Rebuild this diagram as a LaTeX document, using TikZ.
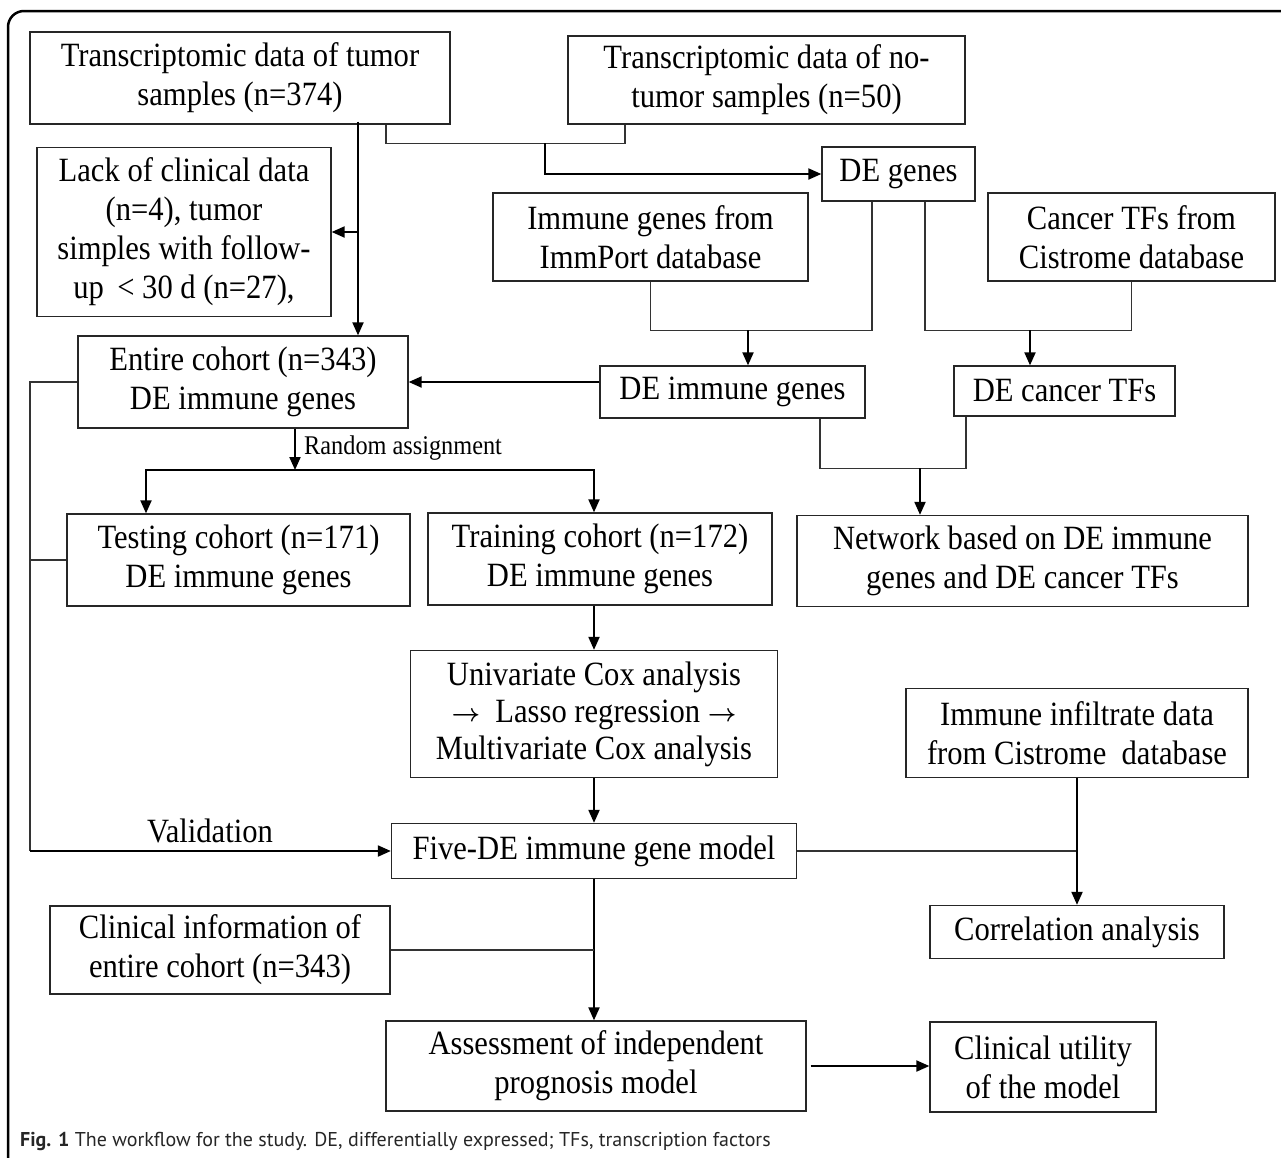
\documentclass[tikz,border=0pt]{standalone}
\usepackage{fontspec}
\setmainfont{Liberation Serif}[FakeStretch=0.9]
\newfontfamily\capfont{PT Sans}
\usetikzlibrary{arrows.meta}
\newcommand\mainsz{\fontsize{34}{39}\selectfont}
\newcommand\rarr{\raisebox{1pt}{\boldmath$\rightarrow$}}
\tikzset{
  box/.style={draw=black!85, line width=1.3pt, inner sep=0pt, align=center, font=\mainsz},
  conn/.style={draw=black!80, line width=1.3pt},
  arr/.style={draw=black, line width=2pt, -{Triangle[length=13pt,width=11pt]}},
}
\begin{document}
\begin{tikzpicture}[x=1pt,y=-1pt]
\useasboundingbox (0,0) rectangle (1281,1157);
% outer frame
\draw[line width=2.5pt, rounded corners=16pt] (8,1170) -- (8,11) -- (1300,11);

% boxes
\node[box, minimum width=420pt, minimum height=92pt] (A) at (240,78) {Transcriptomic data of tumor\\samples (n=374)};
\node[box, minimum width=397pt, minimum height=88pt] (B) at (766.5,80) {Transcriptomic data of no-\\tumor samples (n=50)};
\node[box, minimum width=153pt, minimum height=54pt] (DEg) at (898.5,174) {DE genes};
\node[box, minimum width=294pt, minimum height=169pt] (Lack) at (184,232) {Lack of clinical data\\(n=4), tumor\\simples with follow-\\up \,< 30 d (n=27),};
\node[box, minimum width=315pt, minimum height=88pt] (Imm) at (650.5,237) {Immune genes from\\ImmPort database};
\node[box, minimum width=287pt, minimum height=88pt] (Can) at (1131.5,237) {Cancer TFs from\\Cistrome database};
\node[box, minimum width=330pt, minimum height=92pt] (Ent) at (243,382) {Entire cohort (n=343)\\DE immune genes};
\node[box, minimum width=265pt, minimum height=52pt] (DEi) at (732.5,392) {DE immune genes};
\node[box, minimum width=221pt, minimum height=50pt] (DEt) at (1064.5,391) {DE cancer TFs};
\node[box, minimum width=343pt, minimum height=92pt] (Test) at (238.5,560) {Testing cohort (n=171)\\DE immune genes};
\node[box, minimum width=344pt, minimum height=92pt] (Train) at (600,559) {Training cohort (n=172)\\DE immune genes};
\node[box, minimum width=451pt, minimum height=91pt] (Net) at (1022.5,561) {Network based on DE immune\\genes and DE cancer TFs};
\node[box, minimum width=367pt, minimum height=127pt, font=\fontsize{34}{37}\selectfont] (Uni) at (594,714) {Univariate Cox analysis\\\rarr\ \ Lasso regression \rarr\\Multivariate Cox analysis};
\node[box, minimum width=405pt, minimum height=55pt] (Five) at (594,851) {Five-DE immune gene model};
\node[box, minimum width=342pt, minimum height=89pt] (Inf) at (1077,733) {Immune infiltrate data\\from Cistrome \ database};
\node[box, minimum width=294pt, minimum height=53pt] (Corr) at (1077,932) {Correlation analysis};
\node[box, minimum width=340pt, minimum height=88pt] (Clin) at (220,950) {Clinical information of\\entire cohort (n=343)};
\node[box, minimum width=420pt, minimum height=90pt] (Ass) at (596,1066) {Assessment of independent\\prognosis model};
\node[box, minimum width=226pt, minimum height=90pt] (Util) at (1043,1067) {Clinical utility\\of the model};

% top merge
\draw[conn] ([xshift=146pt]A.south) -- ++(0,19) -| ([xshift=-141.5pt]B.south);
\coordinate (m1) at (545,143);
\draw[arr] (m1) |- (DEg.west);

% tumor -> entire, branch to Lack
\coordinate (a1) at ([xshift=118pt]A.south);
\draw[arr] ([yshift=3pt]a1) -- (a1 |- Ent.north);
\draw[arr] (a1 |- Lack.east) -- (Lack.east);

% DE genes -> DE immune / DE TFs
\draw[conn] (Imm.south) -- ++(0,49) -| ([xshift=-26.5pt]DEg.south);
\draw[conn] (Can.south) -- ++(0,49) -| ([xshift=26.5pt]DEg.south);
\coordinate (j1) at (748,330);
\coordinate (j2) at (1030,330);
\draw[arr] (j1) -- (j1 |- DEi.north);
\draw[arr] (j2) -- (j2 |- DEt.north);

% DE immune -> entire
\draw[arr] (Ent.east -| DEi.west) -- (Ent.east);

% network merge
\draw[conn] ([xshift=87.5pt]DEi.south) -- ++(0,50) -| ([xshift=-98.5pt]DEt.south);
\coordinate (j3) at (920,468);
\draw[arr] (j3) -- (j3 |- Net.north);

% random assignment
\coordinate (r) at (295,470);
\draw[arr] (r |- Ent.south) -- (r);
\node[anchor=west, font=\fontsize{27}{28}\selectfont, inner sep=0pt] (ra) at (304,448) {Random assignment};
\draw[arr] (r) -| ([xshift=-92.5pt]Test.north);
\draw[arr] (r) -| (Train.north -| Uni.north);

% validation line
\coordinate (v1) at (30,382);
\coordinate (v2) at (30,851);
\draw[conn] (Ent.west) -- (v1) -- (v2);
\draw[conn] (Test.west) -- (Test.west -| v1);
\draw[arr] (v2) -- (Five.west);
\node[font=\mainsz, inner sep=0pt] (val) at (210,831) {Validation};

% training -> uni -> five
\draw[arr] (Train.south -| Uni.north) -- (Uni.north);
\draw[arr] (Uni.south) -- (Five.north);

% five -> correlation
\draw[conn] (Five.east) -- (Five.east -| Inf.south);
\draw[arr] (Inf.south) -- (Corr.north);

% five -> assessment, clinical merge
\draw[arr] (Five.south) -- (Five.south |- Ass.north);
\draw[conn] (Clin.east) -- (Clin.east -| Five.south);

% assessment -> utility
\draw[arr] ([xshift=4pt]Ass.east) -- (Ass.east -| Util.west);

% caption
\node[anchor=west, inner sep=0pt, font=\capfont\fontsize{20}{24}\selectfont, text=black!85] (cap) at (20,1141) {\textbf{Fig. 1} The workflow for the study. DE, differentially expressed; TFs, transcription factors};
\end{tikzpicture}
\end{document}
